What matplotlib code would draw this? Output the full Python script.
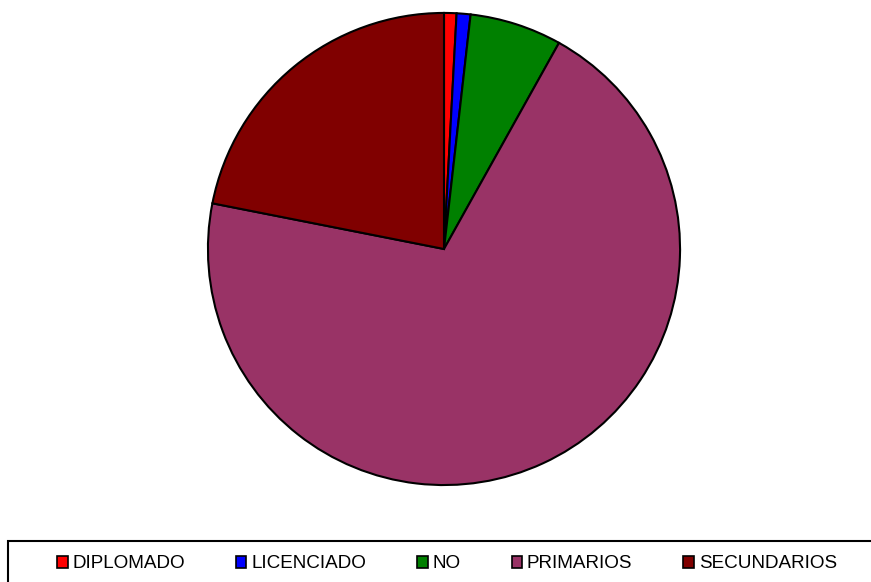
import matplotlib
matplotlib.use("Agg")
import matplotlib.pyplot as plt
from matplotlib.patches import Patch, Rectangle

# slice data, clockwise from 12 o'clock
labels = ["DIPLOMADO", "LICENCIADO", "NO", "PRIMARIOS", "SECUNDARIOS"]
values = [0.85, 0.95, 6.3, 70.0, 21.9]
colors = ["#FF0000", "#0000FF", "#008000", "#993366", "#800000"]

plt.rcParams["font.family"] = ["Liberation Sans", "DejaVu Sans"]

fig = plt.figure(figsize=(8.71, 5.82), dpi=100)
ax = fig.add_axes([207 / 871, 1 - 486 / 582, 474 / 871, 474 / 582])
ax.pie(values, colors=colors, startangle=90, counterclock=False, radius=1,
       wedgeprops=dict(edgecolor="black", linewidth=1.5))
ax.set_xlim(-1.004, 1.004)
ax.set_ylim(-1.004, 1.004)
ax.set_aspect("equal")
ax.axis("off")

# legend box (runs off the right and bottom edges like the original)
fig.patches.append(Rectangle((8 / 871, -0.2), 1.2, 1 - 541 / 582 + 0.2,
                             transform=fig.transFigure, fill=False,
                             edgecolor="black", linewidth=1.5))

handles = [Patch(facecolor=c, edgecolor="black", linewidth=1.2) for c in colors]
fig.legend(handles, labels, loc="center", bbox_to_anchor=(447 / 871, 1 - 564 / 582),
           ncol=5, frameon=False, fontsize=13.6, handlelength=0.55, handleheight=0.55,
           handletextpad=0.26, columnspacing=2.7, borderpad=0)

fig.savefig("out.png", dpi=100)
